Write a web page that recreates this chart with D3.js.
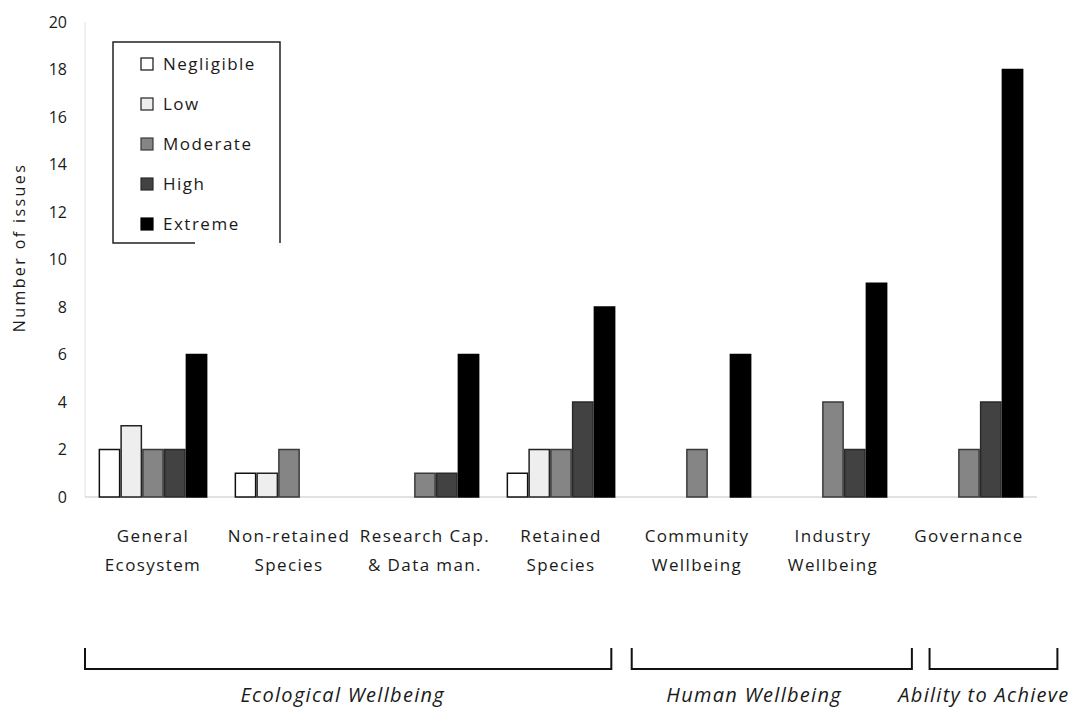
<!DOCTYPE html>
<html>
<head>
<meta charset="utf-8">
<script src="https://cdn.jsdelivr.net/npm/d3@7"></script>
<style>
  html, body { margin: 0; padding: 0; background: #fff; }
  svg { display: block; }
  text { font-family: "Open Sans", "DejaVu Sans", sans-serif; fill: #1a1a1a; }
</style>
</head>
<body>
<svg id="chart" width="1090" height="709"></svg>
<script>
// Issue categories along the x axis (two-line labels)
const categories = [
  "General Ecosystem", "Non-retained Species", "Research Cap. & Data man.",
  "Retained Species", "Community Wellbeing", "Industry Wellbeing", "Governance"
];
const categoryLines = [
  ["General", "Ecosystem"], ["Non-retained", "Species"], ["Research Cap.", "& Data man."],
  ["Retained", "Species"], ["Community", "Wellbeing"], ["Industry", "Wellbeing"], ["Governance"]
];

// Risk levels (series)
const levels = ["Negligible", "Low", "Moderate", "High", "Extreme"];

// Number of issues per risk level, one value per category
const negligible = [2, 1, 0, 1, 0, 0, 0];
const low        = [3, 1, 0, 2, 0, 0, 0];
const moderate   = [2, 2, 1, 2, 2, 4, 2];
const high       = [2, 0, 1, 4, 0, 2, 4];
const extreme    = [6, 0, 6, 8, 6, 9, 18];
const seriesValues = [negligible, low, moderate, high, extreme];

// Y axis ticks
const yTicks = [0, 2, 4, 6, 8, 10, 12, 14, 16, 18, 20];

// Grouping brackets beneath the axis, in category-position units (0 = first category centre)
const groupNames = ["Ecological Wellbeing", "Human Wellbeing", "Ability to Achieve"];
const groupFrom  = [-0.5, 3.52, 5.71];
const groupTo    = [3.37, 5.58, 6.65];
const groupLabelShift = [-0.04, -0.13, -0.07];

const fills   = ["#ffffff", "#eeeeee", "#858585", "#424242", "#000000"];
const strokes = ["#111111", "#222222", "#3a3a3a", "#2a2a2a", "#000000"];

const svg = d3.select("#chart");
const margin = { left: 85, right: 53, top: 22, bottom: 212 };
const W = 1090, H = 709;

const x0 = d3.scaleBand()
  .domain(categories)
  .range([margin.left, W - margin.right])
  .paddingInner(0.2)
  .paddingOuter(0.1);

const x1 = d3.scaleBand()
  .domain(levels)
  .range([0, x0.bandwidth()]);

const y = d3.scaleLinear()
  .domain([0, 20])
  .range([H - margin.bottom, margin.top]);

// position along x in category units (centre of category i at i)
const catPos = d3.scaleLinear()
  .domain([0, 1])
  .range([x0(categories[0]) + x0.bandwidth() / 2, x0(categories[1]) + x0.bandwidth() / 2]);

// faint axis lines
svg.append("line")
  .attr("x1", margin.left).attr("x2", margin.left)
  .attr("y1", y(20)).attr("y2", y(0))
  .attr("stroke", "#e2e2e2").attr("stroke-width", 1);
svg.append("line")
  .attr("x1", margin.left).attr("x2", W - margin.right)
  .attr("y1", y(0)).attr("y2", y(0))
  .attr("stroke", "#d8d8d8").attr("stroke-width", 1.5);

// y tick labels
const yAxis = d3.axisLeft(y).tickValues(yTicks).tickSize(0).tickPadding(0);
const yg = svg.append("g").attr("transform", `translate(${margin.left - 18},0)`).call(yAxis);
yg.select(".domain").remove();
yg.selectAll("text")
  .style("font-family", "'Open Sans', sans-serif")
  .style("font-size", "16px")
  .attr("fill", "#1a1a1a");

// y axis title
svg.append("text")
  .attr("transform", `translate(25,${(y(0) + y(20)) / 2 - 12}) rotate(-90)`)
  .attr("text-anchor", "middle")
  .style("font-size", "16px")
  .style("letter-spacing", "2.4px")
  .text("Number of issues");

// bars
const groups = svg.append("g").selectAll("g")
  .data(categories)
  .join("g")
  .attr("transform", d => `translate(${x0(d)},0)`);

groups.selectAll("rect")
  .data((d, i) => levels.map((lv, j) => ({ level: lv, j, value: seriesValues[j][i] })).filter(e => e.value > 0))
  .join("rect")
  .attr("x", e => x1(e.level) + 0.75)
  .attr("y", e => y(e.value))
  .attr("width", x1.bandwidth() - 1.5)
  .attr("height", e => y(0) - y(e.value))
  .attr("fill", e => fills[e.j])
  .attr("stroke", e => strokes[e.j])
  .attr("stroke-width", 1.5);

// category labels
const catLabels = svg.append("g").selectAll("text")
  .data(categories)
  .join("text")
  .attr("text-anchor", "middle")
  .attr("x", d => x0(d) + x0.bandwidth() / 2)
  .attr("y", y(0) + 45)
  .style("font-size", "17px")
  .style("letter-spacing", "1.4px");
catLabels.each(function(d, i) {
  const t = d3.select(this);
  categoryLines[i].forEach((line, k) => {
    t.append("tspan")
      .attr("x", x0(d) + x0.bandwidth() / 2)
      .attr("dy", k === 0 ? 0 : 29)
      .text(line);
  });
});

// group brackets
const bracketTop = 648, bracketBottom = 669;
groupNames.forEach((name, g) => {
  const a = catPos(groupFrom[g]), b = catPos(groupTo[g]);
  svg.append("path")
    .attr("d", `M${a},${bracketTop}V${bracketBottom}H${b}V${bracketTop}`)
    .attr("fill", "none")
    .attr("stroke", "#111")
    .attr("stroke-width", 2);
  svg.append("text")
    .attr("x", catPos((groupFrom[g] + groupTo[g]) / 2 + groupLabelShift[g]))
    .attr("y", 702)
    .attr("text-anchor", "middle")
    .style("font-size", "20px")
    .style("font-style", "italic")
    .style("letter-spacing", "1.3px")
    .text(name);
});

// legend
const legend = svg.append("g");
const lx = 113, ly = 42, lw = 167, lh = 201;
legend.append("path")
  .attr("d", `M${lx + 82},${ly + lh}H${lx}V${ly}H${lx + lw}V${ly + lh}`)
  .attr("fill", "#fff")
  .attr("stroke", "#222")
  .attr("stroke-width", 1.5);
levels.forEach((lv, j) => {
  const ry = ly + 22 + j * 40;
  legend.append("rect")
    .attr("x", lx + 28).attr("y", ry - 6)
    .attr("width", 12).attr("height", 12)
    .attr("fill", fills[j]).attr("stroke", strokes[j]).attr("stroke-width", 1.2);
  legend.append("text")
    .attr("x", lx + 50).attr("y", ry + 6)
    .style("font-size", "17px")
    .style("letter-spacing", "1.5px")
    .text(lv);
});
</script>
</body>
</html>
